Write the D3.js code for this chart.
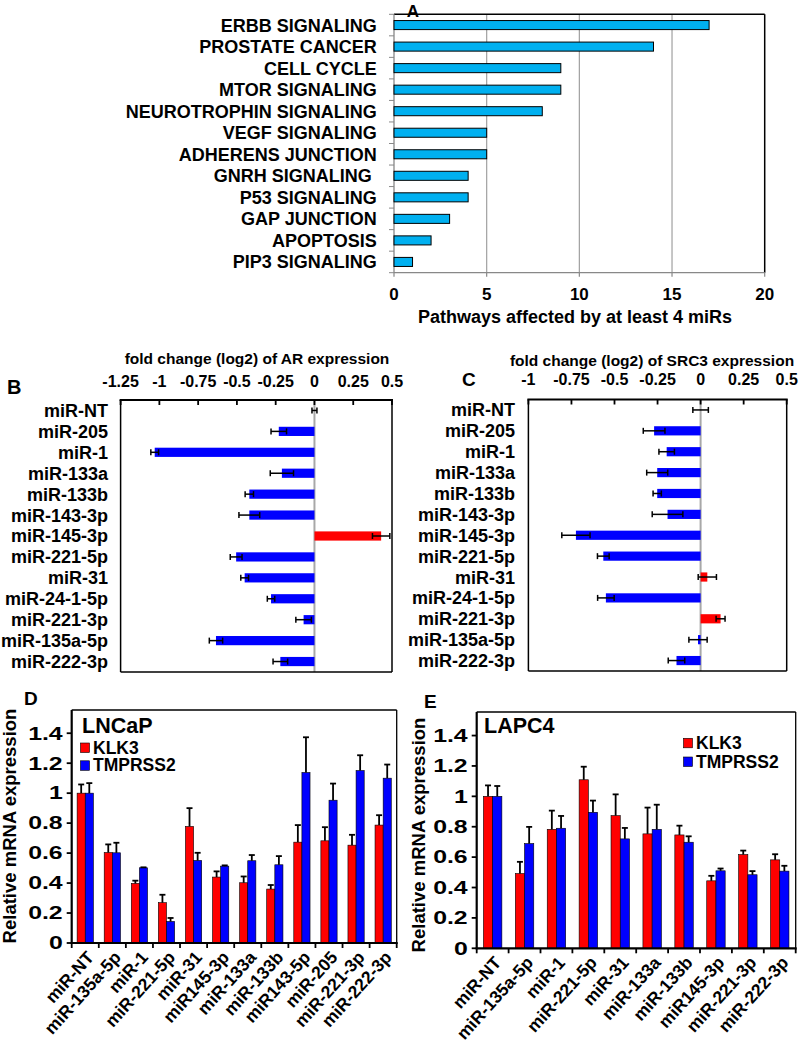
<!DOCTYPE html>
<html><head><meta charset="utf-8">
<script src="https://cdn.jsdelivr.net/npm/d3@7"></script>
<style>
body{margin:0;background:#fff}
svg{display:block}
text{font-family:"Liberation Sans",Arial,Helvetica,sans-serif;}
</style>
</head><body>
<svg id="fig" width="799" height="1050"></svg>
<script>
// ---------------- DATA ----------------
// Panel A
const pathways = ["ERBB SIGNALING","PROSTATE CANCER","CELL CYCLE","MTOR SIGNALING","NEUROTROPHIN SIGNALING","VEGF SIGNALING","ADHERENS JUNCTION","GNRH SIGNALING ","P53 SIGNALING","GAP JUNCTION","APOPTOSIS","PIP3 SIGNALING"];
const pathwayCounts = [17,14,9,9,8,5,5,4,4,3,2,1];
const pathwayTicks = [0,5,10,15,20];

// Panels B & C
const mirsBC = ["miR-NT","miR-205","miR-1","miR-133a","miR-133b","miR-143-3p","miR-145-3p","miR-221-5p","miR-31","miR-24-1-5p","miR-221-3p","miR-135a-5p","miR-222-3p"];
const arFold = [0,-0.23,-1.03,-0.21,-0.42,-0.42,0.43,-0.505,-0.45,-0.28,-0.07,-0.635,-0.22];
const arErr  = [0.016,0.05,0.025,0.075,0.027,0.067,0.056,0.038,0.025,0.024,0.05,0.043,0.047];
const arTicks = [-1.25,-1,-0.75,-0.5,-0.25,0,0.25,0.5];
const src3Fold = [0,-0.27,-0.197,-0.252,-0.252,-0.192,-0.724,-0.565,0.039,-0.55,0.116,-0.015,-0.14];
const src3Err  = [0.045,0.063,0.045,0.061,0.024,0.089,0.082,0.034,0.053,0.048,0.026,0.053,0.048];
const src3Ticks = [-1,-0.75,-0.5,-0.25,0,0.25,0.5];

// Panel D (LNCaP)
const lncapMirs = ["miR-NT","miR-135a-5p","miR-1","miR-221-5p","miR-31","miR145-3p","miR-133a","miR-133b","miR143-5p","miR-205","miR-221-3p","miR-222-3p"];
const lncapKLK3 = [1.0,0.604,0.398,0.269,0.778,0.44,0.402,0.36,0.673,0.682,0.653,0.787];
const lncapKLK3Err = [0.058,0.054,0.018,0.053,0.122,0.038,0.042,0.027,0.114,0.091,0.069,0.066];
const lncapTMPRSS2 = [1.0,0.602,0.502,0.144,0.551,0.513,0.549,0.522,1.138,0.953,1.151,1.1];
const lncapTMPRSS2Err = [0.067,0.067,0.003,0.023,0.051,0.005,0.038,0.058,0.235,0.111,0.102,0.091];

// Panel E (LAPC4)
const lapcMirs = ["miR-NT","miR-135a-5p","miR-1","miR-221-5p","miR-31","miR-133a","miR-133b","miR145-3p","miR-221-3p","miR-222-3p"];
const lapcKLK3 = [1.0,0.492,0.783,1.109,0.873,0.753,0.746,0.444,0.617,0.582];
const lapcKLK3Err = [0.072,0.077,0.123,0.086,0.14,0.173,0.061,0.033,0.026,0.037];
const lapcTMPRSS2 = [1.0,0.689,0.79,0.895,0.72,0.783,0.698,0.51,0.484,0.508];
const lapcTMPRSS2Err = [0.068,0.11,0.081,0.077,0.072,0.162,0.039,0.015,0.024,0.035];

const relTicks = [0,0.2,0.4,0.6,0.8,1,1.2,1.4];
const genes = ["KLK3","TMPRSS2"];

// ---------------- DRAWING ----------------
const svg = d3.select("#fig");
const RED = "#FF0000", BLUE = "#0000FF", CYAN = "#00B0F0";

function label(g, o) {
  const t = g.append("text")
    .attr("transform", `translate(${o.x},${o.y})` + (o.rotate ? ` rotate(${o.rotate})` : "") + ` scale(${o.sx || 1},1)`)
    .attr("text-anchor", o.anchor || "start")
    .attr("font-size", o.size)
    .attr("font-weight", o.weight || "bold")
    .attr("fill", "#000")
    .text(o.text);
  if (o.dy) t.attr("dy", o.dy);
  if (o.pre) t.style("white-space", "pre");
  return t;
}
function ln(g, x1, y1, x2, y2, stroke, w) {
  return g.append("line").attr("x1", x1).attr("y1", y1).attr("x2", x2).attr("y2", y2)
    .attr("stroke", stroke).attr("stroke-width", w);
}

// ===== Panel A =====
(function () {
  const g = svg.append("g");
  const L = 394, R = 764.7, T = 14.3, B = 272.7;
  const x = d3.scaleLinear().domain([0, 20]).range([L, R]);
  const y = d3.scaleBand().domain(pathways).range([T, B]).paddingInner(0.58).paddingOuter(0.29);
  const step = y.step();
  pathwayTicks.slice(1, -1).forEach(d => ln(g, x(d), T, x(d), B, "#a0a0a0", 1.2));
  ln(g, L, T, R, T, "#000", 1.5);
  ln(g, R, T, R, B, "#000", 1.5);
  ln(g, L, T, L, B, "#888", 1.3);
  pathways.forEach((d, i) => ln(g, L - 5, T + i * step, L, T + i * step, "#888", 1));
  ln(g, L - 5, B, L, B, "#888", 1);
  ln(g, L, B, R, B, "#888", 1.3);
  pathwayTicks.forEach(d => ln(g, x(d), B, x(d), B + 4, "#888", 1.2));
  g.selectAll("rect.bar").data(pathways).join("rect")
    .attr("x", x(0)).attr("y", d => y(d))
    .attr("width", (d, i) => x(pathwayCounts[i]) - x(0))
    .attr("height", y.bandwidth())
    .attr("fill", CYAN).attr("stroke", "#000").attr("stroke-width", 1);
  pathways.forEach(d => label(g, {x: 376.7, y: y(d) + y.bandwidth() / 2, text: d, size: 18, anchor: "end", dy: "0.36em", pre: true}));
  pathwayTicks.forEach(d => label(g, {x: x(d), y: 300, text: String(d), size: 17, anchor: "middle"}));
  label(g, {x: 418, y: 323, text: "Pathways affected by at least 4 miRs", size: 18});
  label(g, {x: 413, y: 17, text: "A", size: 17, anchor: "middle"});
})();

// ===== Panels B & C =====
function drawFold(c) {
  const g = svg.append("g");
  const x = d3.scaleLinear().domain([c.ticks[0], c.ticks[c.ticks.length - 1]]).range([c.l, c.r]);
  const y = d3.scaleBand().domain(mirsBC).range([c.t, c.b]).paddingInner(0.56).paddingOuter(0.28);
  const bw = y.bandwidth();
  ln(g, x(0), c.t, x(0), c.b, "#a8a8a8", 2);
  g.selectAll("rect.bar").data(mirsBC).join("rect")
    .attr("x", (d, i) => Math.min(x(0), x(c.values[i])))
    .attr("y", d => y(d))
    .attr("width", (d, i) => Math.abs(x(c.values[i]) - x(0)))
    .attr("height", bw)
    .attr("fill", (d, i) => c.values[i] > 0 ? RED : BLUE);
  mirsBC.forEach((d, i) => {
    const cy = y(d) + bw / 2, v = c.values[i], e = c.errs[i];
    ln(g, x(v - e), cy, x(v + e), cy, "#000", 1.5);
    ln(g, x(v - e), cy - 3, x(v - e), cy + 3, "#000", 1.5);
    ln(g, x(v + e), cy - 3, x(v + e), cy + 3, "#000", 1.5);
  });
  ln(g, c.l, c.t, c.l, c.b, "#000", 1.5);
  ln(g, c.r, c.t, c.r, c.b, "#000", 1.5);
  ln(g, c.l, c.b, c.r, c.b, "#000", 1.5);
  ln(g, c.l - 1, c.t, c.r + 1, c.t, "#000", 2.2);
  c.ticks.forEach(d => ln(g, x(d), c.t, x(d), c.t + 5, "#000", 1.8));
  c.ticks.forEach(d => label(g, {x: x(d), y: c.tickY, text: String(d), size: 16, anchor: "middle"}));
  mirsBC.forEach(d => label(g, {x: c.labelRight, y: y(d) + bw / 2, text: d, size: 18, anchor: "end", dy: "0.36em"}));
  label(g, {x: c.titleX, y: c.titleY, text: c.title, size: 15.5, anchor: "middle"});
  label(g, {x: c.letterX, y: c.letterY, text: c.letter, size: c.letterSize});
}
drawFold({l: 120.6, r: 392, t: 400, b: 672, ticks: arTicks, values: arFold, errs: arErr,
  title: "fold change (log2) of AR expression", titleX: 257, titleY: 364, tickY: 387,
  labelRight: 108, letter: "B", letterX: 7, letterY: 394, letterSize: 20});
drawFold({l: 528.4, r: 786.7, t: 399.5, b: 671, ticks: src3Ticks, values: src3Fold, errs: src3Err,
  title: "fold change (log2) of SRC3 expression", titleX: 652, titleY: 366, tickY: 385,
  labelRight: 515, letter: "C", letterX: 462, letterY: 386, letterSize: 19});

// ===== Panels D & E =====
function drawRel(c) {
  const g = svg.append("g");
  const y = d3.scaleLinear().domain([0, 1.555]).range([c.b, c.t]);
  const xc = d3.scaleBand().domain(c.cats).range([c.l, c.r]).padding(0);
  const step = xc.step();
  const xs = d3.scaleBand().domain(genes).range([0, step]).paddingInner(0).paddingOuter(c.po);
  const series = [{g: "KLK3", v: c.klk, e: c.klkErr, col: RED}, {g: "TMPRSS2", v: c.tm, e: c.tmErr, col: BLUE}];
  ln(g, c.l, c.t, c.r, c.t, "#000", 1.3);
  ln(g, c.r, c.t, c.r, c.b, "#000", 1.3);
  series.forEach(s => {
    c.cats.forEach((d, i) => {
      const x0 = xc(d) + xs(s.g), w = xs.bandwidth(), v = s.v[i], e = s.e[i];
      g.append("rect").attr("x", x0).attr("y", y(v)).attr("width", w).attr("height", y(0) - y(v))
        .attr("fill", s.col).attr("stroke", "#000").attr("stroke-width", 0.6);
      const cx = x0 + w / 2;
      ln(g, cx, y(v), cx, y(v + e), "#000", 1.8);
      ln(g, cx - 3, y(v + e), cx + 3, y(v + e), "#000", 1.8);
    });
  });
  ln(g, c.l, c.t, c.l, c.b + 1, "#000", 2.2);
  ln(g, c.l - 1, c.b, c.r + 1, c.b, "#000", 2.2);
  relTicks.forEach(d => {
    ln(g, c.l - 5, y(d), c.l, y(d), "#000", 1.8);
    label(g, {x: c.l - 9, y: y(d), text: String(d), size: 17.5, anchor: "end", dy: "0.36em", sx: 1.42});
  });
  for (let i = 0; i <= c.cats.length; i++) ln(g, c.l + i * step, c.b, c.l + i * step, c.b + 5, "#000", 1.8);
  c.cats.forEach(d => label(g, {x: xc(d) + step / 2 + 5, y: c.b + 11, text: d, size: 17.5, anchor: "end", dy: "0.35em", rotate: -48}));
  label(g, {x: c.ytX, y: c.ytY, text: "Relative mRNA expression", size: 18.5, anchor: "middle", rotate: -90});
  label(g, {x: c.cellX, y: c.cellY, text: c.cell, size: 21.5});
  series.forEach((s, k) => {
    const sy = c.legY + k * c.legGap;
    g.append("rect").attr("x", c.legX).attr("y", sy).attr("width", 9).attr("height", 9.5)
      .attr("fill", s.col).attr("stroke", "#000").attr("stroke-width", 0.6);
    label(g, {x: c.legX + 12.5, y: sy + 10.5, text: s.g, size: 17.5});
  });
  label(g, {x: c.letterX, y: c.letterY, text: c.letter, size: 19});
}
drawRel({l: 71.7, r: 396.7, t: 710, b: 943, cats: lncapMirs, po: 0.667,
  klk: lncapKLK3, klkErr: lncapKLK3Err, tm: lncapTMPRSS2, tmErr: lncapTMPRSS2Err,
  cell: "LNCaP", cellX: 82, cellY: 733, legX: 80.5, legY: 743, legGap: 17.8,
  ytX: 16, ytY: 826, letter: "D", letterX: 24, letterY: 705});
drawRel({l: 476.7, r: 795.7, t: 712, b: 948.3, cats: lapcMirs, po: 0.73,
  klk: lapcKLK3, klkErr: lapcKLK3Err, tm: lapcTMPRSS2, tmErr: lapcTMPRSS2Err,
  cell: "LAPC4", cellX: 484, cellY: 733, legX: 683.5, legY: 738.3, legGap: 18.7,
  ytX: 425, ytY: 835, letter: "E", letterX: 424, letterY: 708});
</script>
</body></html>
